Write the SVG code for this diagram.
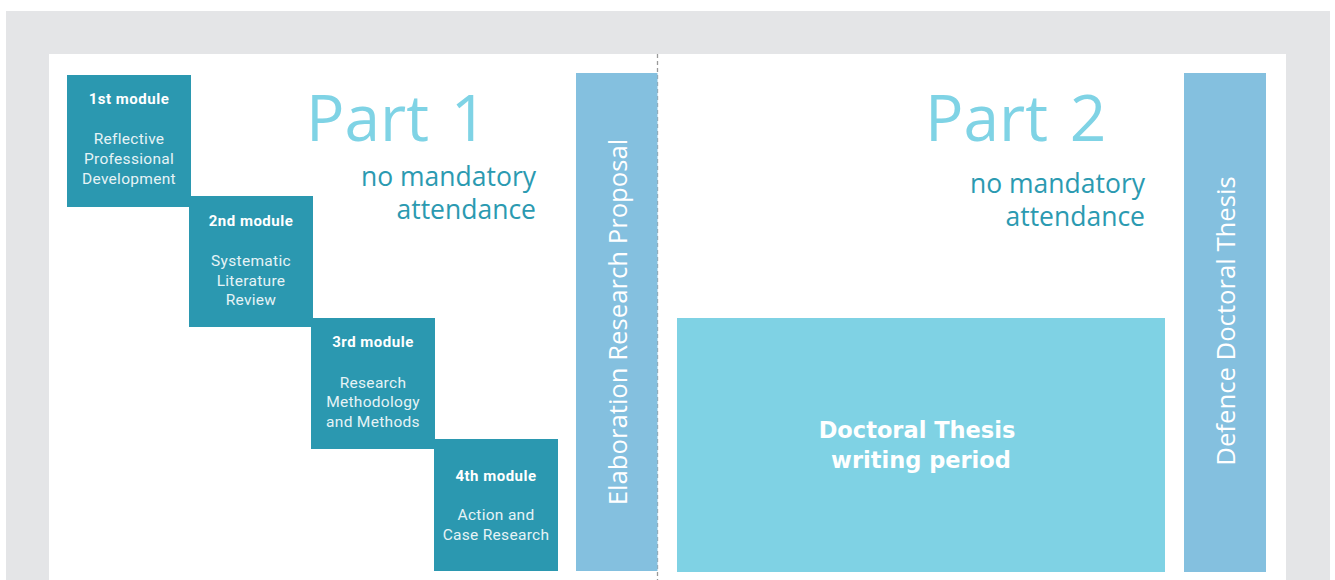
<svg xmlns="http://www.w3.org/2000/svg" width="1335" height="580" viewBox="0 0 1335 580">
  <style>
    .mod { fill: #2b98b0; }
    .bar { fill: #84c0df; }
    .thesis { fill: #7fd2e4; }
    .modhead { font-family: Roboto, "Liberation Sans", sans-serif; font-weight: 700; font-size: 15px; letter-spacing: 0.5px; fill: #ffffff; text-anchor: middle; }
    .modbody { font-family: Roboto, "Liberation Sans", sans-serif; font-weight: 400; font-size: 15.5px; letter-spacing: 0.3px; fill: #e6f3f6; text-anchor: middle; }
    .part { font-family: "Open Sans", "Noto Sans", sans-serif; font-weight: 400; font-size: 64px; word-spacing: 5px; fill: #7fd3e5; }
    .note { font-family: "Open Sans", "Noto Sans", sans-serif; font-size: 26.5px; fill: #2b9ab1; text-anchor: end; }
    .vert { font-family: "Open Sans", "Noto Sans", sans-serif; font-size: 25.7px; fill: #ffffff; text-anchor: middle; }
    .big { font-family: "DejaVu Sans", Verdana, sans-serif; font-weight: 700; font-size: 22.5px; fill: #ffffff; text-anchor: middle; }
  </style>

  <!-- backdrop and page -->
  <rect x="0" y="0" width="1335" height="580" fill="#ffffff"/>
  <rect x="6" y="11" width="1324" height="569" fill="#e4e5e7"/>
  <rect x="49" y="54" width="1237" height="526" fill="#ffffff"/>

  <!-- headings -->
  <text class="part" x="306" y="141">Part 1</text>
  <text class="note" x="536" y="186">no mandatory</text>
  <text class="note" x="536" y="219">attendance</text>
  <text class="part" x="925" y="141">Part 2</text>
  <text class="note" x="1145" y="193">no mandatory</text>
  <text class="note" x="1145" y="226">attendance</text>

  <!-- divider between the two parts -->
  <g id="connectors">
    <line x1="657.5" y1="54" x2="657.5" y2="580" stroke="#9a9a9a" stroke-width="1.3" stroke-dasharray="4 3"/>
  </g>

  <g id="module1">
    <rect class="mod" x="67" y="75" width="124" height="132"/>
    <text class="modhead" x="129" y="104">1st module</text>
    <text class="modbody" x="129" y="144">Reflective</text>
    <text class="modbody" x="129" y="164">Professional</text>
    <text class="modbody" x="129" y="184">Development</text>
  </g>

  <g id="module2">
    <rect class="mod" x="189" y="196" width="124" height="131"/>
    <text class="modhead" x="251" y="226">2nd module</text>
    <text class="modbody" x="251" y="266">Systematic</text>
    <text class="modbody" x="251" y="286">Literature</text>
    <text class="modbody" x="251" y="305">Review</text>
  </g>

  <g id="module3">
    <rect class="mod" x="311" y="318" width="124" height="131"/>
    <text class="modhead" x="373" y="347">3rd module</text>
    <text class="modbody" x="373" y="388">Research</text>
    <text class="modbody" x="373" y="407">Methodology</text>
    <text class="modbody" x="373" y="427">and Methods</text>
  </g>

  <g id="module4">
    <rect class="mod" x="434" y="439" width="124" height="132"/>
    <text class="modhead" x="496" y="481">4th module</text>
    <text class="modbody" x="496" y="520">Action and</text>
    <text class="modbody" x="496" y="540">Case Research</text>
  </g>

  <g id="proposal">
    <rect class="bar" x="576" y="73" width="81.5" height="498"/>
    <text class="vert" transform="translate(627 322) rotate(-90)" x="0" y="0">Elaboration Research Proposal</text>
  </g>

  <g id="thesis">
    <rect class="thesis" x="677" y="318" width="488" height="254"/>
    <text class="big" x="917" y="438">Doctoral Thesis</text>
    <text class="big" x="921" y="468">writing period</text>
  </g>

  <g id="defence">
    <rect class="bar" x="1184" y="73" width="82" height="499"/>
    <text class="vert" transform="translate(1235 321) rotate(-90)" x="0" y="0">Defence Doctoral Thesis</text>
  </g>
</svg>
